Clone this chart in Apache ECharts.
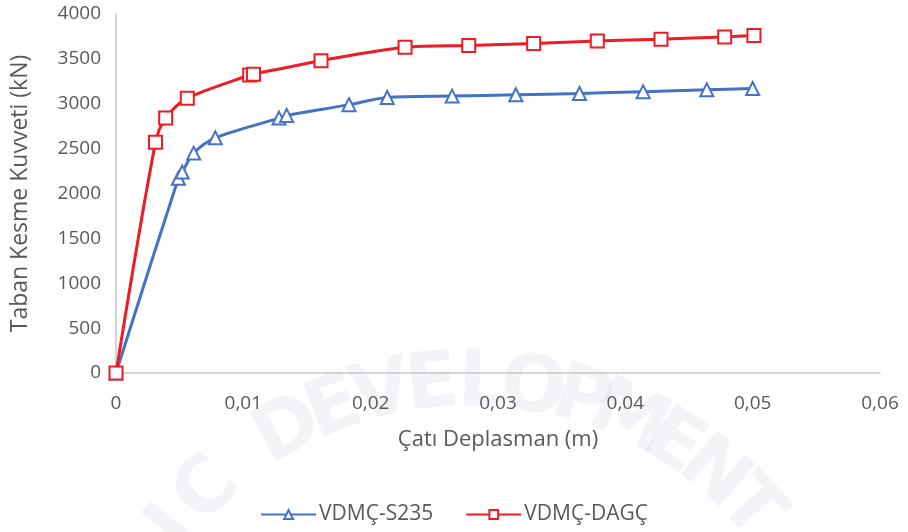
<!DOCTYPE html>
<html>
<head>
<meta charset="utf-8">
<script src="https://cdn.jsdelivr.net/npm/echarts@6/dist/echarts.min.js"></script>
<style>
html, body { margin: 0; padding: 0; background: #fff; }
#chart { width: 908px; height: 532px; }
</style>
</head>
<body>
<div id="chart"></div>
<script>
/*VDMÇ-S235 eğrisi*/
var s235X = [0, 0.0049, 0.0052, 0.0061, 0.0078, 0.0128, 0.0134, 0.0183, 0.0213, 0.0264, 0.0314, 0.0364, 0.0414, 0.0464, 0.0500];
var s235Y = [0, 2170, 2240, 2450, 2620, 2840, 2870, 2990, 3070, 3085, 3100, 3115, 3135, 3155, 3170];
/*VDMÇ-DAGÇ eğrisi*/
var dagcX = [0, 0.0031, 0.0039, 0.0056, 0.0105, 0.0108, 0.0161, 0.0227, 0.0277, 0.0328, 0.0378, 0.0428, 0.0478, 0.0501];
var dagcY = [0, 2570, 2840, 3060, 3320, 3330, 3480, 3630, 3650, 3670, 3700, 3720, 3745, 3760];
/*seri adları*/
var seriesNames = ['VDMÇ-S235', 'VDMÇ-DAGÇ'];
/*filigran harfleri*/
var markText = 'IC DEVELOPMENT';

function pairs(xs, ys) {
	var out = [];
	for(var i = 0; i < xs.length; i++) {
		out.push([xs[i], ys[i]]);
	}
	return out;
}

/*filigran: yay üzerinde harfler*/
function watermark() {
	var els = [];
	var cx = 470, cy = 760, r = 375;
	var start = -52, step = 7.7;
	for(var i = 0; i < markText.length; i++) {
		var ch = markText.charAt(i);
		if(ch === ' ') continue;
		var a = (start + step * i) * Math.PI / 180;
		els.push({
			type: 'text',
			x: cx + r * Math.sin(a),
			y: cy - r * Math.cos(a),
			rotation: -a,
			z: -10,
			silent: true,
			style: {
				text: ch,
				font: 'bold 78px "DejaVu Sans"',
				fill: 'rgba(150,140,190,0.10)',
				align: 'center',
				verticalAlign: 'middle'
			}
		});
	}
	return els;
}

var labelColor = '#595959';
var axisColor = '#c6c6c6';
var fontFam = '"Open Sans", sans-serif';

var mychart = echarts.init(document.getElementById('chart'));
var option = {
	backgroundColor: '#fff',
	animation: false,
	graphic: watermark(),
	grid: {
		left: 116,
		right: 28,
		top: 14,
		bottom: 159
	},
	legend: {
		bottom: 2,
		left: 'center',
		itemWidth: 55,
		itemHeight: 11,
		itemGap: 32,
		textStyle: { color: labelColor, fontSize: 21, fontFamily: fontFam, padding: [0, 0, 0, -2] },
		data: seriesNames
	},
	xAxis: {
		type: 'value',
		min: 0,
		max: 0.06,
		interval: 0.01,
		name: 'Çatı Deplasman (m)',
		nameLocation: 'middle',
		nameGap: 56,
		nameTextStyle: { color: labelColor, fontSize: 22, fontFamily: fontFam },
		axisLine: { show: true, lineStyle: { color: axisColor, width: 1.5 } },
		axisTick: { show: false },
		splitLine: { show: false },
		axisLabel: {
			color: labelColor,
			fontSize: 19,
			fontFamily: fontFam,
			margin: 21,
			formatter: function(v) {
				return v === 0 ? '0' : v.toFixed(2).replace('.', ',');
			}
		}
	},
	yAxis: {
		type: 'value',
		min: 0,
		max: 4000,
		interval: 500,
		name: 'Taban Kesme Kuvveti (kN)',
		nameLocation: 'middle',
		nameGap: 84,
		nameTextStyle: { color: labelColor, fontSize: 23, fontFamily: fontFam },
		axisLine: { show: true, lineStyle: { color: axisColor, width: 1.5 } },
		axisTick: { show: false },
		splitLine: { show: false },
		axisLabel: {
			color: labelColor,
			fontSize: 19,
			fontFamily: fontFam,
			margin: 15,
			formatter: function(v) { return String(v); }
		}
	},
	series: [{
		name: seriesNames[0],
		type: 'line',
		data: pairs(s235X, s235Y),
		smooth: 0.3,
		symbol: 'emptyTriangle',
		symbolSize: 13,
		color: '#4472C4',
		lineStyle: { width: 3, color: '#4472C4' },
		itemStyle: { color: '#4472C4', borderWidth: 2 }
	}, {
		name: seriesNames[1],
		type: 'line',
		data: pairs(dagcX, dagcY),
		smooth: 0.3,
		symbol: 'emptyRect',
		symbolSize: 13,
		color: '#EE1C25',
		lineStyle: { width: 3, color: '#EE1C25' },
		itemStyle: { color: '#EE1C25', borderWidth: 2 }
	}]
};
mychart.setOption(option);
</script>
</body>
</html>
